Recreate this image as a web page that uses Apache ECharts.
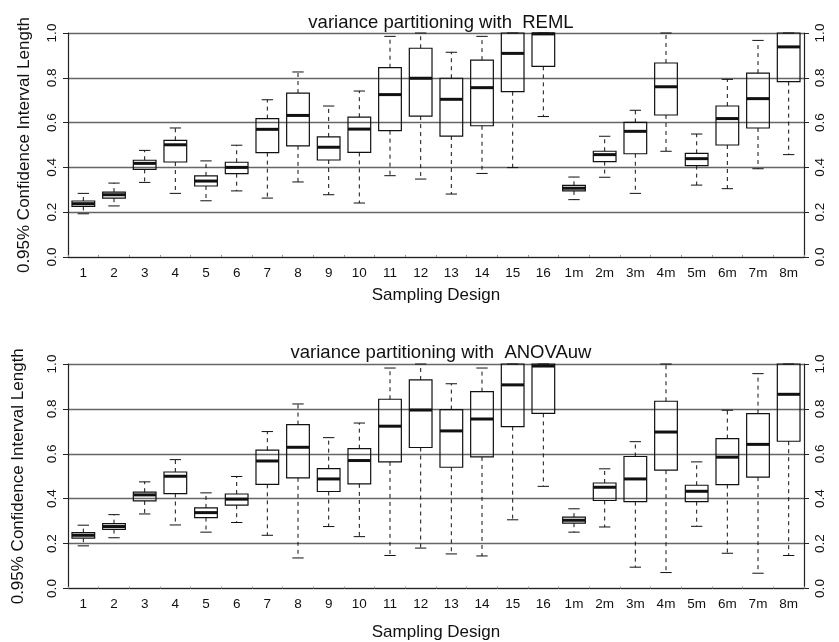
<!DOCTYPE html>
<html>
<head>
<meta charset="utf-8">
<script src="https://cdn.jsdelivr.net/npm/echarts@6/dist/echarts.min.js"></script>
<style>
  html, body { margin: 0; padding: 0; background: #fff; }
  #chart { width: 839px; height: 642px; }
</style>
</head>
<body>
<div id="chart"></div>
<script>
var designs = ['1', '2', '3', '4', '5', '6', '7', '8', '9', '10', '11', '12', '13', '14', '15', '16',
    '1m', '2m', '3m', '4m', '5m', '6m', '7m', '8m'];

// REML panel: whisker ends, quartiles, medians
var remlLow = [0.193, 0.228, 0.333, 0.284, 0.251, 0.295, 0.263, 0.335, 0.278, 0.241, 0.363, 0.348,
    0.281, 0.373, 0.399, 0.627, 0.256, 0.356, 0.284, 0.472, 0.321, 0.305, 0.394, 0.457];
var remlQ1 = [0.226, 0.263, 0.391, 0.424, 0.317, 0.372, 0.466, 0.496, 0.433, 0.467, 0.564, 0.629,
    0.540, 0.586, 0.738, 0.851, 0.295, 0.426, 0.461, 0.634, 0.408, 0.500, 0.576, 0.783];
var remlMed = [0.238, 0.278, 0.418, 0.501, 0.339, 0.400, 0.570, 0.632, 0.490, 0.571, 0.725, 0.798,
    0.704, 0.756, 0.909, 0.996, 0.307, 0.457, 0.561, 0.760, 0.439, 0.618, 0.707, 0.938];
var remlQ3 = [0.250, 0.290, 0.432, 0.521, 0.362, 0.423, 0.618, 0.732, 0.536, 0.624, 0.845, 0.932,
    0.798, 0.879, 1.000, 1.000, 0.320, 0.472, 0.601, 0.866, 0.463, 0.674, 0.821, 1.000];
var remlHigh = [0.284, 0.330, 0.476, 0.576, 0.429, 0.499, 0.702, 0.826, 0.674, 0.741, 0.985, 1.000,
    0.914, 0.985, 1.000, 1.000, 0.357, 0.539, 0.655, 1.000, 0.549, 0.793, 0.967, 1.000];

// ANOVAuw panel
var anovaLow = [0.190, 0.226, 0.332, 0.283, 0.251, 0.294, 0.237, 0.136, 0.276, 0.231, 0.147, 0.180,
    0.154, 0.145, 0.306, 0.455, 0.251, 0.274, 0.095, 0.071, 0.277, 0.157, 0.068, 0.147];
var anovaQ1 = [0.224, 0.263, 0.390, 0.423, 0.316, 0.371, 0.464, 0.493, 0.432, 0.466, 0.564, 0.628,
    0.540, 0.586, 0.721, 0.780, 0.291, 0.392, 0.387, 0.527, 0.387, 0.463, 0.496, 0.656];
var anovaMed = [0.237, 0.276, 0.417, 0.500, 0.338, 0.398, 0.568, 0.629, 0.488, 0.570, 0.723, 0.795,
    0.702, 0.755, 0.907, 0.991, 0.304, 0.451, 0.488, 0.697, 0.433, 0.585, 0.642, 0.865];
var anovaQ3 = [0.249, 0.289, 0.429, 0.519, 0.359, 0.421, 0.616, 0.730, 0.534, 0.623, 0.843, 0.929,
    0.797, 0.877, 1.000, 1.000, 0.318, 0.470, 0.588, 0.834, 0.460, 0.668, 0.779, 1.000];
var anovaHigh = [0.282, 0.329, 0.475, 0.574, 0.426, 0.499, 0.699, 0.822, 0.672, 0.737, 0.982, 1.000,
    0.912, 0.982, 1.000, 1.000, 0.355, 0.533, 0.654, 1.000, 0.564, 0.794, 0.957, 1.000];

var yTicks = ['0.0', '0.2', '0.4', '0.6', '0.8', '1.0'];

var FONT = "'Liberation Sans', Arial, Helvetica, sans-serif";

function rows(lo, q1, med, q3, hi) {
    return designs.map(function (d, i) {
        return [i, lo[i], q1[i], med[i], q3[i], hi[i]];
    });
}

// draws one R-style box: dashed whiskers, half-width staples, thick median
function renderBox(params, api) {
    var x = api.value(0);
    var lo = api.coord([x, api.value(1)]);
    var q1 = api.coord([x, api.value(2)]);
    var med = api.coord([x, api.value(3)]);
    var q3 = api.coord([x, api.value(4)]);
    var hi = api.coord([x, api.value(5)]);
    var band = api.size([1, 0])[0];
    var bw = band * 0.74;
    var cw = bw * 0.5;
    var cx = q1[0];
    var dash = { stroke: '#111', lineWidth: 1, lineDash: [4, 4] };
    var solid = { stroke: '#111', lineWidth: 1 };
    return {
        type: 'group',
        children: [
            { type: 'line', shape: { x1: cx, y1: q3[1], x2: cx, y2: hi[1] }, style: dash },
            { type: 'line', shape: { x1: cx, y1: q1[1], x2: cx, y2: lo[1] }, style: dash },
            { type: 'line', shape: { x1: cx - cw / 2, y1: hi[1], x2: cx + cw / 2, y2: hi[1] }, style: solid },
            { type: 'line', shape: { x1: cx - cw / 2, y1: lo[1], x2: cx + cw / 2, y2: lo[1] }, style: solid },
            { type: 'rect', shape: { x: cx - bw / 2, y: q3[1], width: bw, height: q1[1] - q3[1] },
              style: { fill: 'none', stroke: '#111', lineWidth: 1.2 } },
            { type: 'line', shape: { x1: cx - bw / 2, y1: med[1], x2: cx + bw / 2, y2: med[1] },
              style: { stroke: '#111', lineWidth: 3 } }
        ]
    };
}

function xAxisFor(gi, gap) {
    return {
        type: 'category', gridIndex: gi, data: designs, boundaryGap: true,
        name: 'Sampling Design', nameLocation: 'middle', nameGap: gap,
        nameTextStyle: { fontFamily: FONT, fontSize: 17, color: '#111' },
        axisLine: { lineStyle: { color: '#222', width: 1.2 } },
        axisTick: { show: true, inside: true, length: 2, interval: 0, lineStyle: { color: '#999' } },
        axisLabel: { interval: 0, margin: 9, fontFamily: FONT, fontSize: 13.5, color: '#111' },
        splitLine: { show: false }
    };
}

function yAxisFor(gi, pos, gap) {
    var ax = {
        type: 'value', gridIndex: gi, position: pos, min: 0, max: 1, interval: 0.2,
        axisLine: { show: true, lineStyle: { color: '#222', width: 1.2 } },
        axisTick: { show: true, length: 5, lineStyle: { color: '#222' } },
        axisLabel: {
            rotate: 90, margin: 9, fontFamily: FONT, fontSize: 13.5, color: '#111',
            formatter: function (v) { return yTicks[Math.round(v / 0.2)]; }
        },
        splitLine: { show: pos === 'left', lineStyle: { color: '#666', width: 1.3 } }
    };
    if (pos === 'left') {
        ax.name = '0.95% Confidence Interval Length';
        ax.nameLocation = 'middle';
        ax.nameGap = gap;
        ax.nameTextStyle = { fontFamily: FONT, fontSize: 17, color: '#111' };
    }
    return ax;
}

var chart = echarts.init(document.getElementById('chart'), null, { renderer: 'canvas' });

var option = {
    backgroundColor: '#ffffff',
    animation: false,
    title: [
        { text: 'variance partitioning with  REML', left: 436, top: 8, textAlign: 'center',
          textStyle: { fontFamily: FONT, fontSize: 18.5, fontWeight: 'normal', color: '#111' } },
        { text: 'variance partitioning with  ANOVAuw', left: 436, top: 338, textAlign: 'center',
          textStyle: { fontFamily: FONT, fontSize: 18.5, fontWeight: 'normal', color: '#111' } }
    ],
    grid: [
        { left: 68, right: 35, top: 33, height: 224 },
        { left: 68, right: 35, top: 364, height: 224.5 }
    ],
    xAxis: [xAxisFor(0, 30), xAxisFor(1, 35)],
    yAxis: [yAxisFor(0, 'left', 35), yAxisFor(0, 'right'), yAxisFor(1, 'left', 41), yAxisFor(1, 'right')],
    series: [
        { type: 'custom', xAxisIndex: 0, yAxisIndex: 0, renderItem: renderBox,
          encode: { x: 0, y: [1, 2, 3, 4, 5] },
          data: rows(remlLow, remlQ1, remlMed, remlQ3, remlHigh) },
        { type: 'custom', xAxisIndex: 1, yAxisIndex: 2, renderItem: renderBox,
          encode: { x: 0, y: [1, 2, 3, 4, 5] },
          data: rows(anovaLow, anovaQ1, anovaMed, anovaQ3, anovaHigh) }
    ]
};

chart.setOption(option);
</script>
</body>
</html>
